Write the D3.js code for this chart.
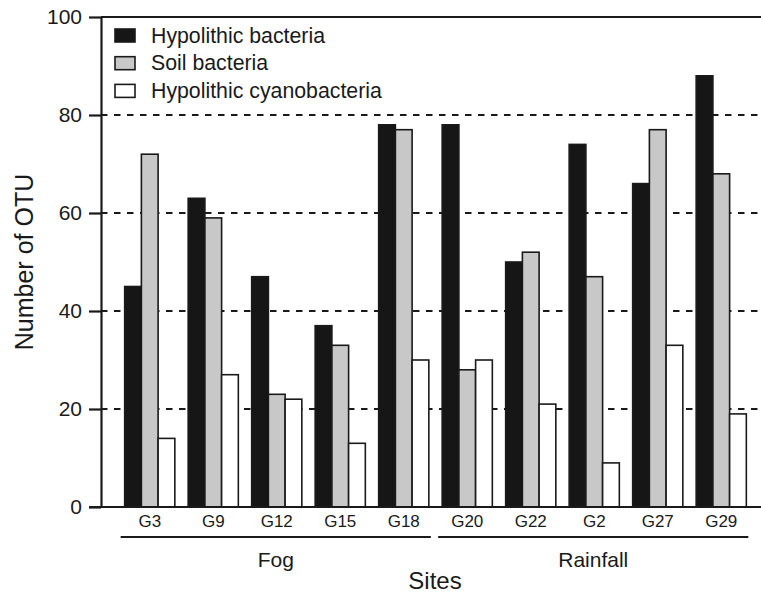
<!DOCTYPE html>
<html>
<head>
<meta charset="utf-8">
<script src="https://cdn.jsdelivr.net/npm/d3@7"></script>
<style>
  body { margin: 0; background: #fff; }
  svg text { font-family: "Liberation Sans", Arial, Helvetica, sans-serif; fill: #1a1a1a; }
</style>
</head>
<body>
<div id="wrapper"></div>
<script>
// data
const sites = ["G3", "G9", "G12", "G15", "G18", "G20", "G22", "G2", "G27", "G29"]
const regimes = [
  { name: "Fog", sites: ["G3", "G9", "G12", "G15", "G18"] },
  { name: "Rainfall", sites: ["G20", "G22", "G2", "G27", "G29"] },
]
const seriesNames = ["Hypolithic bacteria", "Soil bacteria", "Hypolithic cyanobacteria"]
const hypolithicBacteria = [45, 63, 47, 37, 78, 78, 50, 74, 66, 88]
const soilBacteria = [72, 59, 23, 33, 77, 28, 52, 47, 77, 68]
const hypolithicCyanobacteria = [14, 27, 22, 13, 30, 30, 21, 9, 33, 19]
const yTicks = [0, 20, 40, 60, 80, 100]
const gridTicks = [20, 40, 60, 80]

const seriesValues = [hypolithicBacteria, soilBacteria, hypolithicCyanobacteria]
const fills = ["#161616", "#c8c8c8", "#ffffff"]

const width = 761
const height = 595
const dims = { left: 101, right: 770, top: 17, bottom: 507 }

const svg = d3.select("#wrapper")
  .append("svg")
    .attr("width", width)
    .attr("height", height)

// scales
const x = d3.scaleBand()
  .domain(sites)
  .range([118, 753])
  .paddingInner(0.21)
  .paddingOuter(0.105)

const xInner = d3.scaleBand()
  .domain(seriesNames)
  .range([0, x.bandwidth()])

const y = d3.scaleLinear()
  .domain([0, 100])
  .range([dims.bottom, dims.top])

// dashed grid, behind bars
svg.append("g")
  .selectAll("line")
  .data(gridTicks)
  .join("line")
    .attr("x1", dims.left)
    .attr("x2", width)
    .attr("y1", d => y(d))
    .attr("y2", d => y(d))
    .attr("stroke", "#1a1a1a")
    .attr("stroke-width", 2)
    .attr("stroke-dasharray", "6.5,6.5")

// bars
const groups = svg.append("g")
  .selectAll("g")
  .data(sites)
  .join("g")
    .attr("transform", d => `translate(${x(d)},0)`)

groups.selectAll("rect")
  .data((site, i) => seriesNames.map((s, j) => ({ series: s, value: seriesValues[j][i], fill: fills[j] })))
  .join("rect")
    .attr("x", d => xInner(d.series))
    .attr("width", xInner.bandwidth())
    .attr("y", d => y(d.value))
    .attr("height", d => y(0) - y(d.value))
    .attr("fill", d => d.fill)
    .attr("stroke", "#1a1a1a")
    .attr("stroke-width", 1.6)

// top border
svg.append("line")
  .attr("x1", dims.left)
  .attr("x2", width)
  .attr("y1", dims.top)
  .attr("y2", dims.top)
  .attr("stroke", "#1a1a1a")
  .attr("stroke-width", 2)

// y axis
const yAxis = svg.append("g")
  .attr("transform", `translate(${dims.left},0)`)
  .call(d3.axisLeft(y).tickValues(yTicks).tickSize(12).tickPadding(7).tickSizeOuter(0))

yAxis.select(".domain").attr("stroke", "#1a1a1a").attr("stroke-width", 2.2)
yAxis.selectAll(".tick line").attr("stroke", "#1a1a1a").attr("stroke-width", 2.2)
yAxis.selectAll(".tick text")
  .attr("font-size", 21)
  .attr("font-family", null)
  .attr("fill", "#1a1a1a")

// x axis
const xAxis = svg.append("g")
  .attr("transform", `translate(0,${dims.bottom})`)
  .call(d3.axisBottom(x).tickSize(0).tickPadding(8).tickSizeOuter(0))

xAxis.select(".domain")
  .attr("d", `M${dims.left - 12},0H${width}`)
  .attr("stroke", "#1a1a1a")
  .attr("stroke-width", 2.2)
xAxis.selectAll(".tick text")
  .attr("font-size", 17)
  .attr("font-family", null)
  .attr("fill", "#1a1a1a")

// regime brackets
const regimeG = svg.append("g")
regimes.forEach(r => {
  const first = r.sites[0]
  const last = r.sites[r.sites.length - 1]
  const x1 = x(first) - 4
  const x2 = x(last) + x.bandwidth() + 2
  regimeG.append("line")
    .attr("x1", x1)
    .attr("x2", x2)
    .attr("y1", 537)
    .attr("y2", 537)
    .attr("stroke", "#1a1a1a")
    .attr("stroke-width", 2.2)
  regimeG.append("text")
    .attr("x", (x1 + x2) / 2)
    .attr("y", 567)
    .attr("text-anchor", "middle")
    .attr("font-size", 21)
    .text(r.name)
})

// axis titles
svg.append("text")
  .attr("x", 435)
  .attr("y", 589)
  .attr("text-anchor", "middle")
  .attr("font-size", 24)
  .text("Sites")

svg.append("text")
  .attr("transform", "translate(33,262) rotate(-90)")
  .attr("text-anchor", "middle")
  .attr("font-size", 25)
  .text("Number of OTU")

// legend
const legend = svg.append("g")
  .attr("transform", "translate(115,29)")

const legendRows = legend.selectAll("g")
  .data(seriesNames)
  .join("g")
    .attr("transform", (d, i) => `translate(0,${i * 27.7})`)

legendRows.append("rect")
  .attr("width", 20)
  .attr("height", 13)
  .attr("fill", (d, i) => fills[i])
  .attr("stroke", "#1a1a1a")
  .attr("stroke-width", 1.6)

legendRows.append("text")
  .attr("x", 36)
  .attr("y", 13.5)
  .attr("font-size", 21.3)
  .text(d => d)
</script>
</body>
</html>
